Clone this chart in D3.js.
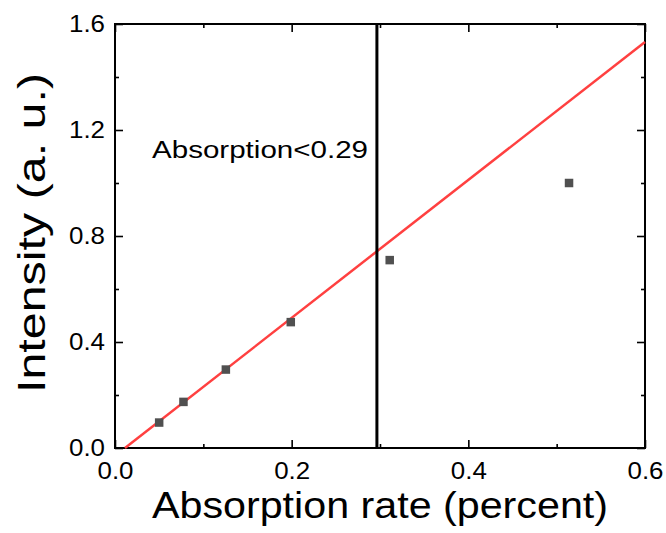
<!DOCTYPE html>
<html>
<head>
<meta charset="utf-8">
<script src="https://cdn.jsdelivr.net/npm/d3@7"></script>
<style>
  html, body { margin: 0; padding: 0; background: #fff; }
  svg { display: block; font-family: "Liberation Sans", Arial, sans-serif; }
</style>
</head>
<body>
<script>
// ---- data ----
const absorption = [0.050, 0.0775, 0.1255, 0.199, 0.311, 0.514];
const intensity  = [0.096, 0.174, 0.296, 0.475, 0.709, 1.000];
const fitX = [0.0113, 0.6];
const fitY = [0.0, 1.532];
const thresholdX = [0.2965];
const xTicks = [0.0, 0.2, 0.4, 0.6];
const yTicks = [0.0, 0.4, 0.8, 1.2, 1.6];
const xMinorTicks = [0.1, 0.3, 0.5];
const yMinorTicks = [0.2, 0.6, 1.0, 1.4];
const annotation = "Absorption<0.29";
const xTitle = "Absorption rate (percent)";
const yTitle = "Intensity (a. u.)";

// ---- layout ----
const W = 666, H = 533;
const m = { left: 115, top: 24, right: 21, bottom: 85 };
const iw = W - m.left - m.right, ih = H - m.top - m.bottom;

const svg = d3.select("body").append("svg").attr("width", W).attr("height", H);
const g = svg.append("g").attr("transform", `translate(${m.left},${m.top})`);

const x = d3.scaleLinear().domain([0, 0.6]).range([0, iw]);
const y = d3.scaleLinear().domain([0, 1.6]).range([ih, 0]);

const fmt = d3.format(".1f");

function styleAxis(sel) {
  sel.select(".domain").remove();
  sel.selectAll(".tick line").attr("stroke", "#000").attr("stroke-width", 1.6);
}

// major/minor ticks, inward on all sides
const axes = [
  { gen: d3.axisBottom(x), tr: `translate(0,${ih})`, major: xTicks, minor: xMinorTicks, labels: true, pad: 15 },
  { gen: d3.axisTop(x), tr: `translate(0,0)`, major: xTicks, minor: xMinorTicks, labels: false, pad: 0 },
  { gen: d3.axisLeft(y), tr: `translate(0,0)`, major: yTicks, minor: yMinorTicks, labels: true, pad: 10 },
  { gen: d3.axisRight(y), tr: `translate(${iw},0)`, major: yTicks, minor: yMinorTicks, labels: false, pad: 0 },
];
axes.forEach(a => {
  const maj = g.append("g").attr("transform", a.tr)
    .call(a.gen.tickValues(a.major).tickSizeInner(-8).tickSizeOuter(0)
      .tickFormat(a.labels ? fmt : "").tickPadding(a.pad));
  styleAxis(maj);
  const mn = g.append("g").attr("transform", a.tr)
    .call(a.gen.tickValues(a.minor).tickSizeInner(-4).tickSizeOuter(0).tickFormat(""));
  styleAxis(mn);
  mn.selectAll("text").remove();
  if (!a.labels) maj.selectAll("text").remove();
});

// tick label styling
g.selectAll("g.tick text")
  .attr("fill", "#000")
  .style("font-size", "23px")
  .attr("textLength", 36)
  .attr("lengthAdjust", "spacingAndGlyphs");

// frame
g.append("rect").attr("x", 0).attr("y", 0).attr("width", iw).attr("height", ih)
  .attr("fill", "none").attr("stroke", "#000").attr("stroke-width", 2);

// fit line
const line = d3.line().x(d => x(d[0])).y(d => y(d[1]));
g.append("path").datum(d3.zip(fitX, fitY)).attr("d", line)
  .attr("fill", "none").attr("stroke", "#ff4040").attr("stroke-width", 2.5);

// threshold vertical line
g.selectAll("line.thr").data(thresholdX).join("line").attr("class", "thr")
  .attr("x1", d => x(d)).attr("x2", d => x(d))
  .attr("y1", 0).attr("y2", ih)
  .attr("stroke", "#000").attr("stroke-width", 3);

// data points
const s = 8.5;
g.selectAll("rect.pt").data(d3.zip(absorption, intensity)).join("rect").attr("class", "pt")
  .attr("x", d => x(d[0]) - s / 2).attr("y", d => y(d[1]) - s / 2)
  .attr("width", s).attr("height", s).attr("fill", "#505050");

// annotation
svg.append("text").attr("x", 152).attr("y", 158)
  .attr("textLength", 216).attr("lengthAdjust", "spacingAndGlyphs")
  .style("font-size", "23.5px").attr("fill", "#000").text(annotation);

// axis titles
svg.append("text").attr("x", 152).attr("y", 518)
  .attr("textLength", 456).attr("lengthAdjust", "spacingAndGlyphs")
  .style("font-size", "36px").attr("fill", "#000").text(xTitle);

svg.append("text").attr("transform", "translate(45,393) rotate(-90)")
  .attr("x", 0).attr("y", 0)
  .attr("textLength", 320).attr("lengthAdjust", "spacingAndGlyphs")
  .style("font-size", "39px").attr("fill", "#000").text(yTitle);
</script>
</body>
</html>
